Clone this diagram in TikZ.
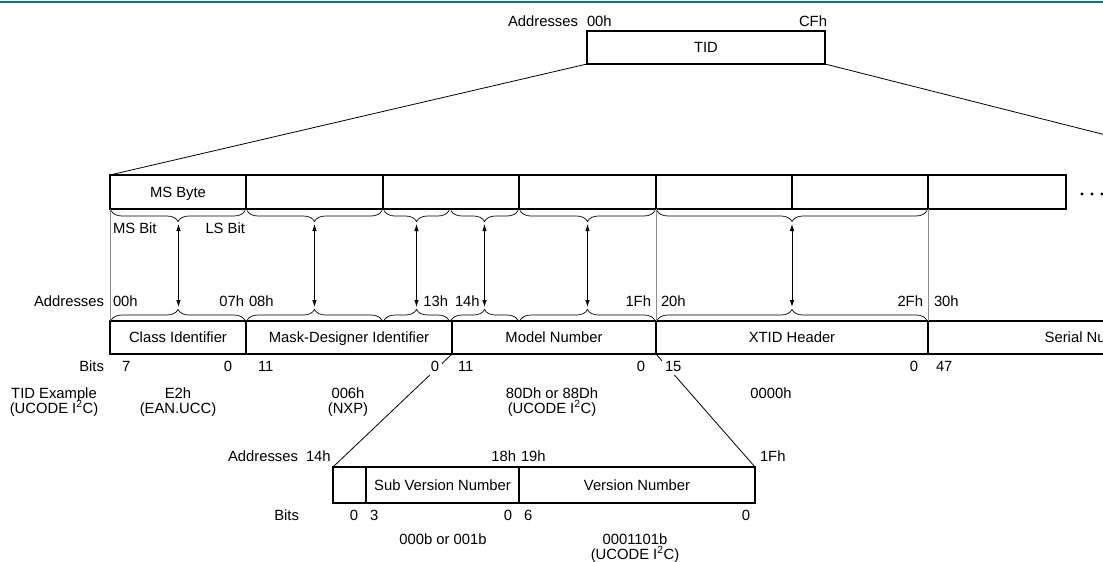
\documentclass[tikz,border=0pt]{standalone}
\usepackage{fontspec}
\setmainfont{Liberation Sans}
\usetikzlibrary{decorations.pathreplacing,arrows.meta}
\definecolor{rulecol}{RGB}{0,118,140}
\definecolor{guidecol}{RGB}{140,140,140}
\begin{document}
\begin{tikzpicture}[x=1pt,y=-1pt,
  every node/.style={font=\fontsize{14.8pt}{15.3pt}\selectfont, inner sep=0pt, outer sep=0pt},
  cell/.style={draw, line width=1.4pt, text height=10.5pt, text depth=0pt, anchor=north west},
  lbl/.style={},
  lr/.style={anchor=base east},
  ll/.style={anchor=base west},
  lc/.style={anchor=base},
  knock/.style={fill=white, inner xsep=3pt, inner ysep=3pt},
  thinline/.style={line width=0.8pt},
  guide/.style={draw=guidecol, line width=0.8pt},
  ubrace/.style={decorate, decoration={brace, amplitude=11pt}, line width=0.7pt},
  dar/.style={{Latex[length=7pt,width=4.5pt]}-{Latex[length=7pt,width=4.5pt]}, line width=0.8pt, shorten <=2pt, shorten >=2pt}
]
\useasboundingbox (0,0) rectangle (1103,562);
\clip (0,0) rectangle (1103,562);

% top rule
\draw[rulecol, line width=1.2pt] (0,2) -- (1103,2);

% TID box
\node[cell, minimum width=238pt, minimum height=33pt] (tid) at (587,31) {TID};
\node[lr] (adrA) at (578,26) {Addresses};
\node[ll] (adrA0) at (587,26) {00h};
\node[lr] (adrACF) at (827,26) {CFh};

% top byte row
\node[cell, minimum width=136pt, minimum height=34pt] (t1) at (110,175) {MS Byte};
\node[cell, minimum width=137pt, minimum height=34pt] (t2) at (246,175) {};
\node[cell, minimum width=136pt, minimum height=34pt] (t3) at (383,175) {};
\node[cell, minimum width=137pt, minimum height=34pt] (t4) at (519,175) {};
\node[cell, minimum width=136pt, minimum height=34pt] (t5) at (656,175) {};
\node[cell, minimum width=136pt, minimum height=34pt] (t6) at (792,175) {};
\node[cell, minimum width=138pt, minimum height=34pt] (t7) at (928,175) {};
\fill (1082,194) circle[radius=1.6pt];
\fill (1092,194) circle[radius=1.6pt];
\fill (1102,194) circle[radius=1.6pt];

% field row
\node[cell, minimum width=136pt, minimum height=33pt] (c1) at (110,321) {Class Identifier};
\node[cell, minimum width=206pt, minimum height=33pt] (c2) at (246,321) {Mask-Designer Identifier};
\node[cell, minimum width=204pt, minimum height=33pt] (c3) at (452,321) {Model Number};
\node[cell, minimum width=272pt, minimum height=33pt] (c4) at (656,321) {XTID Header};
\node[cell, minimum width=328pt, minimum height=33pt] (c5) at (928,321) {Serial Number};

% zoom lines from TID
\coordinate (rowend) at (1264,175);
\draw[thinline] (tid.south west) -- (t1.north west);
\draw[thinline] (tid.south east) -- (rowend);

% guide lines
\draw[guide] (t1.south west) -- (c1.north west);
\draw[guide] (t5.south west) -- (c4.north west);
\draw[guide] (t7.south west) -- (c5.north west);

% braces
\foreach \a/\b in {111/245, 247/382, 384/449, 451/518, 520/655, 657/927} {
  \draw[ubrace] (\b,210.5) -- (\a,210.5);
  \draw[ubrace] (\a,320.5) -- (\b,320.5);
}

% arrows
\foreach \i/\x in {1/178.5, 2/314.5, 3/416.5, 4/484.5, 5/587.5, 6/792} {
  \coordinate (u\i) at (\x,222);
  \coordinate (l\i) at (\x,309);
  \draw[dar] (u\i) -- (l\i);
}

\node[ll] (msbit) at (113,233) {MS Bit};
\node[lr] (lsbit) at (245,233) {LS Bit};

% address labels
\node[lr] (adrB) at (104,306) {Addresses};
\node[ll] (a00) at (113,306) {00h};
\node[lr] (a07) at (244,306) {07h};
\node[ll] (a08) at (249,306) {08h};
\node[lr] (a13) at (448,306) {13h};
\node[ll] (a14) at (455,306) {14h};
\node[lr] (a1F) at (651,306) {1Fh};
\node[ll] (a20) at (661,306) {20h};
\node[lr] (a2F) at (923,306) {2Fh};
\node[ll] (a30) at (934,306) {30h};

% sub-field row
\node[cell, minimum width=33pt, minimum height=36pt] (s1) at (333,467) {};
\node[cell, minimum width=153pt, minimum height=36pt] (s2) at (366,467) {Sub Version Number};
\node[cell, minimum width=236pt, minimum height=36pt] (s3) at (519,467) {Version Number};

\draw[thinline] (c3.south west) -- (s1.north west);
\draw[thinline] (c3.south east) -- (s3.north east);

% bits labels
\node[lr] (bitsA) at (104,371.5) {Bits};
\node[ll] (b7) at (122,371.5) {7};
\node[lr] (b0a) at (232,371.5) {0};
\node[ll] (b11a) at (258,371.5) {11};
\node[lr, knock] (b0b) at (442,371.5) {0};
\node[ll] (b11b) at (458,371.5) {11};
\node[lr] (b0c) at (645,371.5) {0};
\node[ll, knock] (b15) at (662,371.5) {15};
\node[lr] (b0d) at (918,371.5) {0};
\node[ll] (b47) at (936,371.5) {47};

% examples
\node[lc] (exA1) at (54,398) {TID Example};
\node[lc] (exA2) at (54,413) {(UCODE I\textsuperscript{2}C)};
\node[lc] (exB1) at (178,398) {E2h};
\node[lc] (exB2) at (178,413) {(EAN.UCC)};
\node[lc] (exC1) at (348,398) {006h};
\node[lc] (exC2) at (348,413) {(NXP)};
\node[lc] (exD1) at (552,398) {80Dh or 88Dh};
\node[lc] (exD2) at (552,413) {(UCODE I\textsuperscript{2}C)};
\node[lc] (exE1) at (771,398) {0000h};

% sub labels
\node[lr] (adrC) at (298,461) {Addresses};
\node[ll] (sa14) at (306,461) {14h};
\node[lr] (sa18) at (516,461) {18h};
\node[ll] (sa19) at (521,461) {19h};
\node[ll] (sa1F) at (760,461) {1Fh};

\node[lr] (bitsB) at (299,520) {Bits};
\node[lr] (sb0a) at (358,520) {0};
\node[ll] (sb3) at (370,520) {3};
\node[lr] (sb0b) at (512,520) {0};
\node[ll] (sb6) at (524,520) {6};
\node[lr] (sb0c) at (750,520) {0};

\node[lc] (exF1) at (443,544) {000b or 001b};
\node[lc] (exG1) at (635,544) {0001101b};
\node[lc] (exG2) at (635,559) {(UCODE I\textsuperscript{2}C)};
\end{tikzpicture}
\end{document}
